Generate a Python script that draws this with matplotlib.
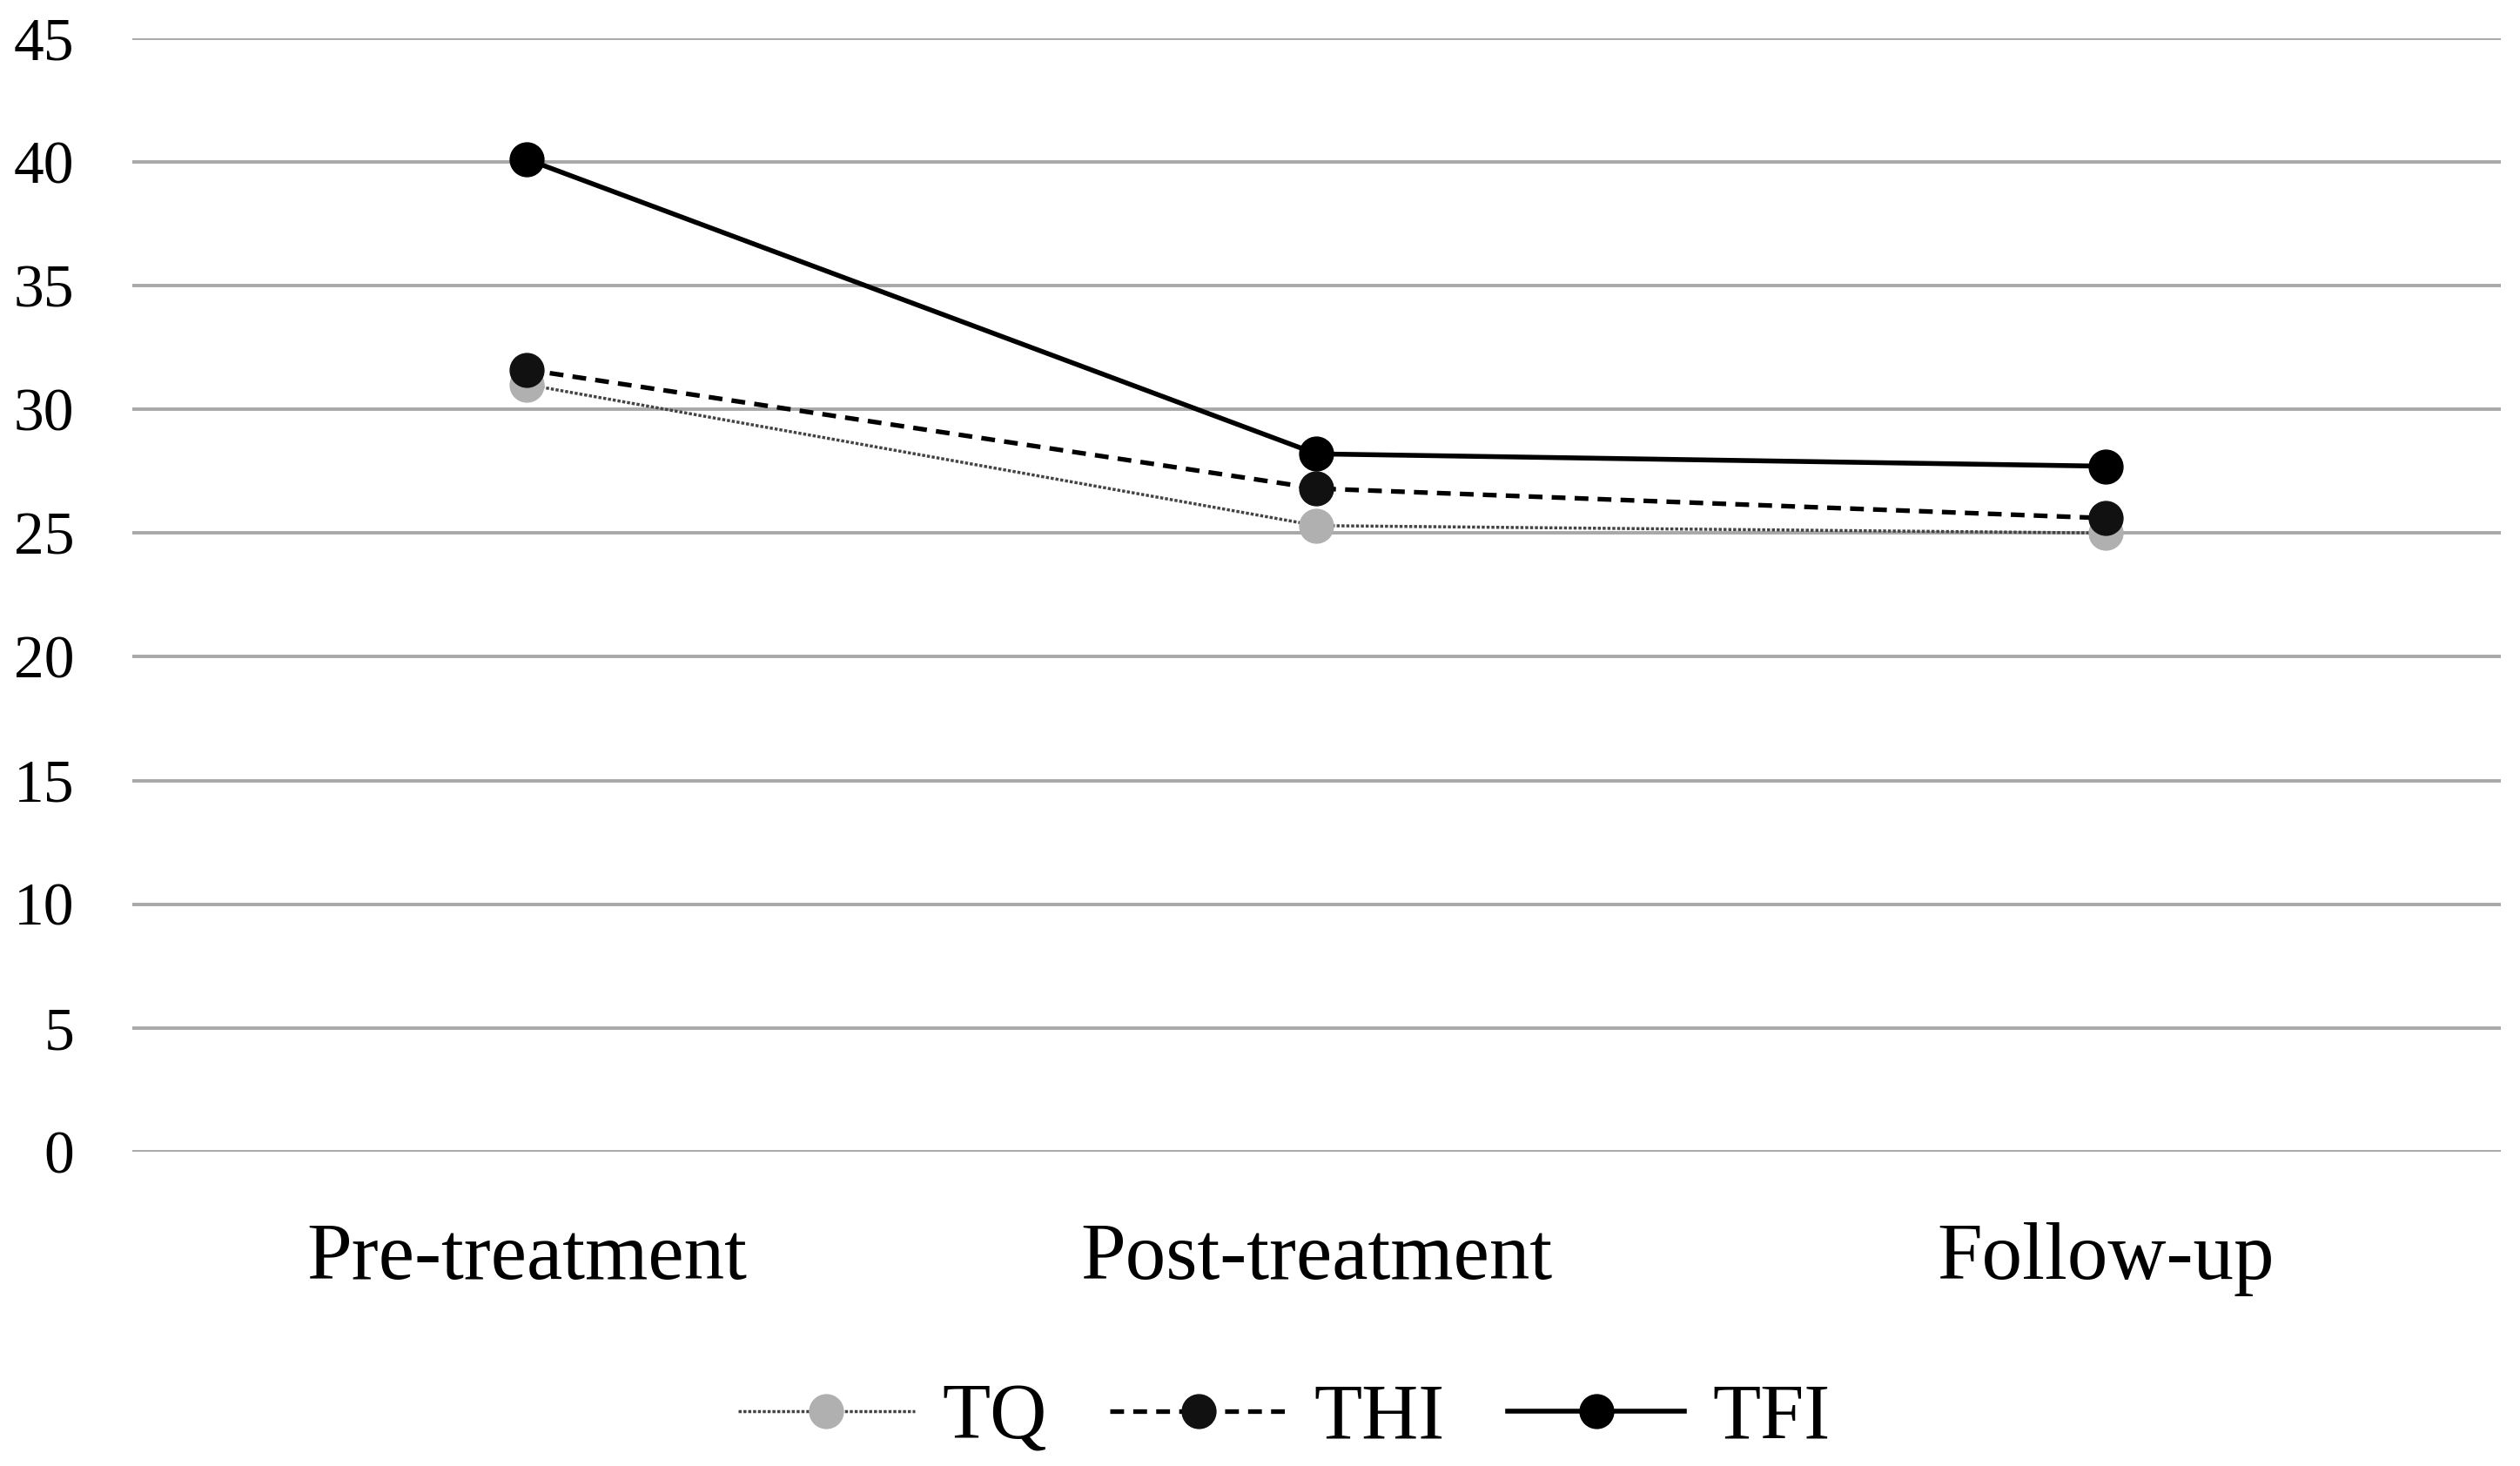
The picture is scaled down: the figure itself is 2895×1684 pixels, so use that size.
import matplotlib
matplotlib.use("Agg")
import matplotlib.pyplot as plt

categories = ["Pre-treatment", "Post-treatment", "Follow-up"]
tq = [31.0, 25.3, 25.0]
thi = [31.6, 26.8, 25.6]
tfi = [40.1, 28.2, 27.7]
yticks = [0, 5, 10, 15, 20, 25, 30, 35, 40, 45]

plt.rcParams['font.family'] = ['Liberation Serif', 'DejaVu Serif']

fig = plt.figure(figsize=(28.95, 16.84), dpi=100)
ax = fig.add_axes([0.0525, 0.2144, 0.9399, 0.7596])
x = list(range(len(categories)))

ax.plot(x, tq, linestyle=(0, (1, 0.6)), color='#444444', lw=2.5, marker='o',
        markersize=28, markerfacecolor='#b0b0b0', markeredgecolor='#b0b0b0', label='TQ', zorder=3)
ax.plot(x, thi, linestyle=(0, (3, 2)), color='black', lw=3.8, marker='o',
        markersize=28, markerfacecolor='#111111', markeredgecolor='#111111', label='THI', zorder=4)
ax.plot(x, tfi, linestyle='-', color='black', lw=4, marker='o',
        markersize=28, markerfacecolor='black', markeredgecolor='black', label='TFI', zorder=5)

ax.set_xlim(-0.5, 2.5)
ax.set_ylim(0, 45)
ax.set_yticks(yticks)
ax.set_yticklabels([str(v) for v in yticks])
ax.set_xticks(x)
ax.set_xticklabels(categories)
ax.yaxis.grid(True, color='#a8a8a8', lw=2.8)
ax.set_axisbelow(True)
for s in ax.spines.values():
    s.set_visible(False)
ax.tick_params(axis='y', length=0, pad=48, labelsize=50)
ax.tick_params(axis='x', length=0, pad=58, labelsize=67)

leg = fig.legend(loc='center', bbox_to_anchor=(0.5095, 0.032), ncol=3, frameon=False,
                 fontsize=65, handlelength=2.25, columnspacing=0.8, handletextpad=0.35)

fig.savefig("out.png", dpi=100, facecolor='white')
